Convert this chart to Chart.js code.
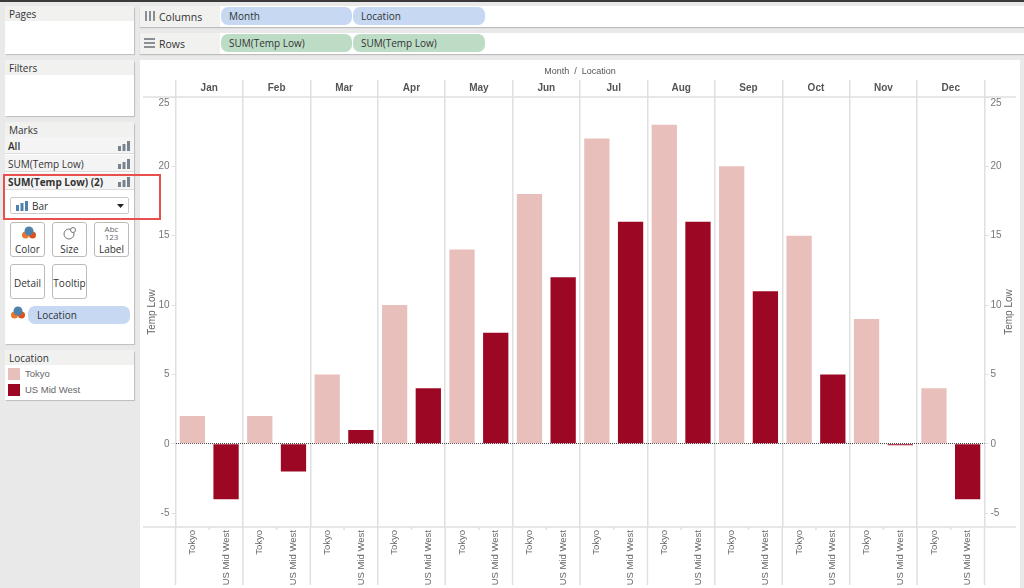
<!DOCTYPE html>
<html>
<head>
<meta charset="utf-8">
<title>Temp Low</title>
<script src="https://cdn.jsdelivr.net/npm/chart.js@4"></script>
<style>
  html, body { margin: 0; padding: 0; }
  body { width: 1024px; height: 588px; overflow: hidden; background: #e9e9e9; position: relative;
         font-family: "Open Sans", "Noto Sans", sans-serif; font-size: 10px; color: #333; }
  #topline { position: absolute; left: 0; top: 0; width: 1024px; height: 2px; background: #3a3a3a; }
  .panel { position: absolute; left: 5px; width: 129px; background: #fff; box-shadow: 1px 1px 1px #bdbdbd; border-radius: 3px 3px 0 0; }
  .panel .head { background: #f1f1f0; height: 15px; line-height: 17px; padding-left: 4px; color: #333; }
  .shelf { position: absolute; left: 140px; width: 884px; height: 21px; background: #fff; box-shadow: 0 1px 1px #bdbdbd; }
  .shelf .name { position: absolute; left: 0; top: 0; width: 80px; height: 21px; background: #f1f1f0; line-height: 22px; padding-left: 19px; box-sizing: border-box; font-size: 10.5px; }
  .pill { position: absolute; top: 1px; height: 18px; line-height: 19px; padding-left: 8px; box-sizing: border-box; border-radius: 7px; font-size: 10px; }
  .blue { background: #c6d8f2; }
  .green { background: #bddcc6; }
  .row { position: absolute; left: 0; width: 129px; height: 17px; line-height: 18px; padding-left: 3px; box-sizing: border-box; background: #f4f4f4; border-bottom: 1px solid #ddd; }
  .bars { position: absolute; right: 4px; top: 4px; width: 12px; height: 10px; }
  .card { position: absolute; width: 35px; height: 35px; box-sizing: border-box; border: 1px solid #bbb; border-radius: 3px; text-align: center; background: #fff; padding-top: 20px; line-height: 12px; }
  .swatch { position: absolute; left: 3px; width: 12px; height: 12px; }
  .leg { position: absolute; left: 20px; font-family: "Liberation Sans", sans-serif; font-size: 9.5px; color: #666; }
  #wrap { position: absolute; left: 140px; top: 60px; width: 880px; height: 528px; background: #fff; }
  #redbox { position: absolute; left: 3px; top: 174px; width: 158px; height: 46px; box-sizing: border-box; border: 2px solid #e8504e; }
  #select { position: absolute; left: 5px; top: 75px; width: 119px; height: 17px; box-sizing: border-box; border: 1px solid #ccc; border-radius: 2px; line-height: 17px; padding-left: 21px; background: #fff; }
</style>
</head>
<body>
<div id="topline"></div>

<div class="shelf" style="top:6px">
  <div class="name">Columns</div>
  <svg style="position:absolute;left:5px;top:5px" width="10" height="10"><path d="M0 0h2v10H0zM4 0h2v10H4zM8 0h2v10H8z" fill="#8a8f94"/></svg>
  <div class="pill blue" style="left:81px;width:131px">Month</div>
  <div class="pill blue" style="left:213px;width:132px">Location</div>
</div>
<div class="shelf" style="top:33px">
  <div class="name">Rows</div>
  <svg style="position:absolute;left:4px;top:5px" width="11" height="10"><path d="M0 0h11v2H0zM0 4h11v2H0zM0 8h11v2H0z" fill="#8a8f94"/></svg>
  <div class="pill green" style="left:81px;width:131px">SUM(Temp Low)</div>
  <div class="pill green" style="left:213px;width:132px">SUM(Temp Low)</div>
</div>

<div class="panel" style="top:6px;height:48px"><div class="head">Pages</div></div>
<div class="panel" style="top:60px;height:56px"><div class="head">Filters</div></div>

<div class="panel" style="top:122px;height:222px">
  <div class="head">Marks</div>
  <div class="row" style="top:15px;font-weight:600">All<svg class="bars"><path d="M0 5h3v5H0zM4.500 3h3v7h-3zM9 0h3v10H9z" fill="#77838f"/></svg></div>
  <div class="row" style="top:33px">SUM(Temp Low)<svg class="bars"><path d="M0 5h3v5H0zM4.500 3h3v7h-3zM9 0h3v10H9z" fill="#77838f"/></svg></div>
  <div class="row" style="top:51px;font-weight:700">SUM(Temp Low) (2)<svg class="bars"><path d="M0 5h3v5H0zM4.500 3h3v7h-3zM9 0h3v10H9z" fill="#77838f"/></svg></div>
  <div id="select">Bar
    <svg style="position:absolute;left:5px;top:3px" width="12" height="10"><path d="M0 4h3v6H0zM4.500 2h3v8h-3zM9 0h3v10H9z" fill="#4f81ad"/></svg>
    <svg style="position:absolute;right:4px;top:6px" width="7" height="4"><path d="M0 0h7L3.500 4z" fill="#222"/></svg>
  </div>
  <div class="card" style="left:5px;top:100px">Color
    <svg style="position:absolute;left:11px;top:3px" width="14" height="14"><circle cx="3.500" cy="9" r="3.500" fill="#e8762c"/><circle cx="10.500" cy="9" r="3.500" fill="#d9531e"/><circle cx="7" cy="5" r="4.500" fill="#4f81ad"/></svg>
  </div>
  <div class="card" style="left:47px;top:100px">Size
    <svg style="position:absolute;left:10px;top:3px" width="14" height="14"><circle cx="6" cy="8" r="5" fill="none" stroke="#777"/><circle cx="10" cy="4" r="2.500" fill="#fff" stroke="#777"/></svg>
  </div>
  <div class="card" style="left:89px;top:100px">Label
    <div style="position:absolute;left:0;top:2px;width:33px;font-size:8px;line-height:8px;color:#666">Abc<br>123</div>
  </div>
  <div class="card" style="left:5px;top:142px;padding-top:12px">Detail</div>
  <div class="card" style="left:47px;top:142px;padding-top:12px">Tooltip</div>
  <svg style="position:absolute;left:6px;top:184px" width="14" height="14"><circle cx="3.500" cy="9" r="3.500" fill="#e8762c"/><circle cx="10.500" cy="9" r="3.500" fill="#d9531e"/><circle cx="7" cy="5" r="4.500" fill="#4f81ad"/></svg>
  <div class="pill blue" style="left:23px;top:184px;width:102px;padding-left:9px">Location</div>
</div>

<div class="panel" style="top:350px;height:50px">
  <div class="head">Location</div>
  <div class="swatch" style="top:18px;background:#e9bfbb"></div><div class="leg" style="top:18px">Tokyo</div>
  <div class="swatch" style="top:34px;background:#9c0824"></div><div class="leg" style="top:34px">US Mid West</div>
</div>

<div id="wrap"><canvas id="chart" width="880" height="528"></canvas></div>
<div id="redbox"></div>

<script>
const months = ["Jan", "Feb", "Mar", "Apr", "May", "Jun", "Jul", "Aug", "Sep", "Oct", "Nov", "Dec"];
const locations = ["Tokyo", "US Mid West"];
const tokyo = [2, 2, 5, 10, 14, 18, 22, 23, 20, 15, 9, 4];
const usMidWest = [-4, -2, 1, 4, 8, 12, 16, 16, 11, 5, -0.1, -4];
const yTicks = [-5, 0, 5, 10, 15, 20, 25];
const yTitle = "Temp Low";

const gridColor = "#e0e0e0";
const tickFont = { family: "'Liberation Sans', Arial, sans-serif", size: 10 };

// one label per bar along the bottom
const subLabels = [];
for (let month of months) {
  for (let location of locations) {
    subLabels.push(location);
  }
}

// a two line label moves the text half a line down, like the top tick in the original
function yLabel(value) {
  return value === 25 ? ["", "25"] : String(value);
}

function yAxis(position, isLeft) {
  return {
    type: "linear",
    position: position,
    min: -6,
    max: 25,
    afterBuildTicks: (axis) => {
      axis.ticks = yTicks.map((v) => ({ value: v }));
    },
    afterFit: (axis) => {
      axis.width = 35.5;
    },
    ticks: { callback: yLabel, color: "#777", font: tickFont, padding: 2 },
    title: { display: isLeft, text: yTitle, color: "#666", font: tickFont, padding: { top: 6, bottom: 0 } },
    border: { display: false, dash: (ctx) => (ctx.tick && ctx.tick.value === 0 ? [1, 1] : []) },
    grid: {
      drawOnChartArea: isLeft,
      color: (ctx) => (ctx.tick && ctx.tick.value === 0 ? "#444" : "rgba(0,0,0,0)"),
      tickColor: gridColor,
      tickLength: 4,
    },
  };
}

// header rules, the lines that run on through the bottom labels, and the right title
// (Chart.js would turn a right hand title the other way up)
const frameLines = {
  id: "frameLines",
  beforeDatasetsDraw(chart) {
    const { ctx, scales } = chart;
    const sub = scales.sub;
    const top = scales.y.getPixelForValue(25);
    const bottom = scales.y.getPixelForValue(-6);
    ctx.save();
    ctx.strokeStyle = gridColor;
    ctx.lineWidth = 1.5;
    ctx.beginPath();
    for (let y of [top, bottom]) {
      ctx.moveTo(3, y);
      ctx.lineTo(876, y);
    }
    const step = sub.width / subLabels.length;
    for (let i = 0; i <= subLabels.length; i++) {
      const x = sub.left + i * step;
      ctx.moveTo(x, bottom);
      ctx.lineTo(x, bottom + (i % 2 === 0 ? 58 : 3));
    }
    ctx.stroke();

    ctx.translate(scales.yRight.right - 11, (top + bottom) / 2);
    ctx.rotate(-Math.PI / 2);
    ctx.fillStyle = "#666";
    ctx.font = "10px " + tickFont.family;
    ctx.textAlign = "center";
    ctx.textBaseline = "middle";
    ctx.fillText(yTitle, 0, 0);
    ctx.restore();
  },
};

new Chart(document.querySelector("#chart"), {
  type: "bar",
  data: {
    labels: months,
    datasets: [
      { label: locations[0], data: tokyo, backgroundColor: "#e9bfbb" },
      { label: locations[1], data: usMidWest, backgroundColor: "#9c0824" },
    ],
  },
  options: {
    responsive: false,
    animation: false,
    maintainAspectRatio: false,
    layout: { padding: 0 },
    categoryPercentage: 1,
    barPercentage: 0.75,
    plugins: { legend: { display: false }, tooltip: { enabled: false } },
    scales: {
      x: {
        position: "top",
        afterFit: (axis) => {
          axis.height = 37;
        },
        title: {
          display: true,
          text: "Month  /  Location",
          color: "#555",
          font: { family: tickFont.family, size: 9 },
          padding: { top: 6, bottom: 0 },
        },
        ticks: { color: "#555", font: { family: tickFont.family, size: 10, weight: "bold" }, padding: -14, maxRotation: 0 },
        border: { display: false },
        grid: { color: gridColor, tickColor: gridColor, lineWidth: 1.5, tickLength: 17, offset: true },
      },
      sub: {
        type: "category",
        position: "bottom",
        labels: subLabels,
        afterFit: (axis) => {
          axis.height = 61;
        },
        ticks: { color: "#666", font: { family: tickFont.family, size: 9.5 }, autoSkip: false, minRotation: 90, maxRotation: 90, padding: 3 },
        border: { display: false },
        grid: { display: false, drawTicks: false },
      },
      y: yAxis("left", true),
      yRight: yAxis("right", false),
    },
  },
  plugins: [frameLines],
});
</script>
</body>
</html>
